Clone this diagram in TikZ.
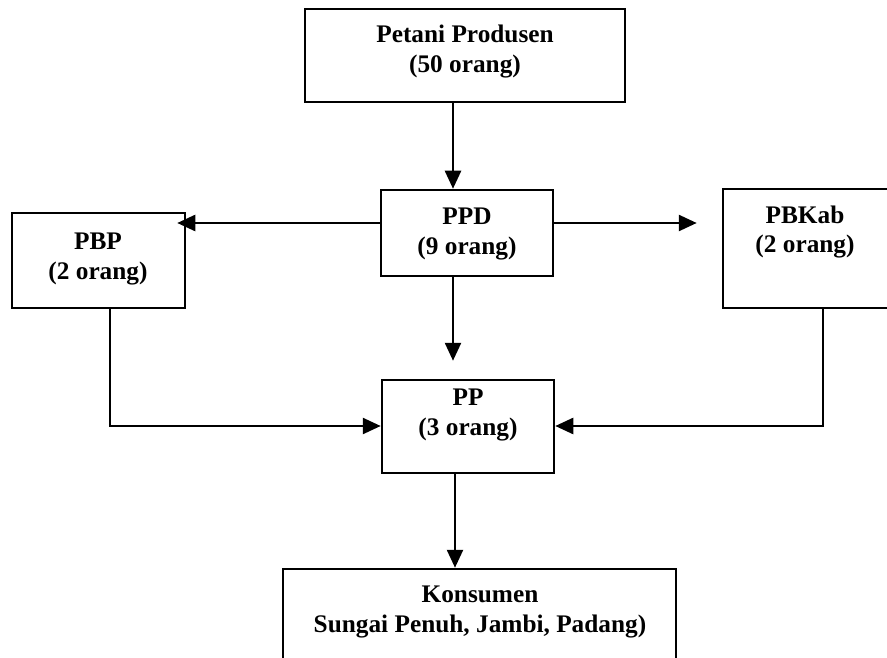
\documentclass[tikz,border=0pt]{standalone}
\usepackage{fontspec}
\setmainfont{Liberation Serif}
\usetikzlibrary{arrows.meta}
\tikzset{
  box/.style={draw=black, line width=2.5pt, rectangle, inner sep=0pt},
  txt/.style={align=center, inner sep=0pt, font=\bfseries\fontsize{25.3}{29.5}\selectfont},
  arr/.style={line width=2.5pt, -{Triangle[length=18pt,width=16pt]}}
}
\begin{document}
\begin{tikzpicture}[x=1pt,y=-1pt]
\useasboundingbox (0,0) rectangle (887,658);
\clip (0,0) rectangle (887,658);
\fill[white] (0,0) rectangle (887,658);
% boxes
\node[box, minimum width=320pt, minimum height=93pt] (petani) at (465,55.5) {};
\node[box, minimum width=172pt, minimum height=86pt] (ppd) at (467,233) {};
\node[box, minimum width=173pt, minimum height=95pt] (pbp) at (98.5,260.5) {};
\node[box, minimum width=168pt, minimum height=119pt] (pbkab) at (807,248.5) {};
\node[box, minimum width=172pt, minimum height=93pt] (pp) at (468,426.5) {};
\node[box, minimum width=393pt, minimum height=96pt] (konsumen) at (479.5,617) {};
% texts
\node[txt] (tpetani) at (465,51.5) {Petani Produsen\\(50 orang)};
\node[txt] (tppd) at (467,234) {PPD\\(9 orang)};
\node[txt] (tpbp) at (98,259) {PBP\\(2 orang)};
\node[txt] (tpbkab) at (805,232) {PBKab\\(2 orang)};
\node[txt] (tpp) at (468,415) {PP\\(3 orang)};
\node[txt] (tkonsumen) at (480,612) {Konsumen\\Sungai Penuh, Jambi, Padang)};
% helper coordinates
\coordinate (cx) at (453,0);
\coordinate (cx2) at (455,0);
\coordinate (cy) at (0,223);
\coordinate (b1) at (110,426);
\coordinate (b2) at (823,426);
% connectors
\draw[arr] (petani.south -| cx) -- (ppd.north -| cx);
\draw[arr, shorten >=-9pt] (ppd.west |- cy) -- (pbp.east |- cy);
\draw[arr, shorten >=25pt] (ppd.east |- cy) -- (pbkab.west |- cy);
\draw[arr, shorten >=18pt] (ppd.south -| cx) -- (pp.north -| cx);
\draw[arr] (pbp.south -| b1) -- (b1) -- (pp.west |- b1);
\draw[arr] (pbkab.south -| b2) -- (b2) -- (pp.east |- b2);
\draw[arr] (pp.south -| cx2) -- (konsumen.north -| cx2);
\end{tikzpicture}
\end{document}
